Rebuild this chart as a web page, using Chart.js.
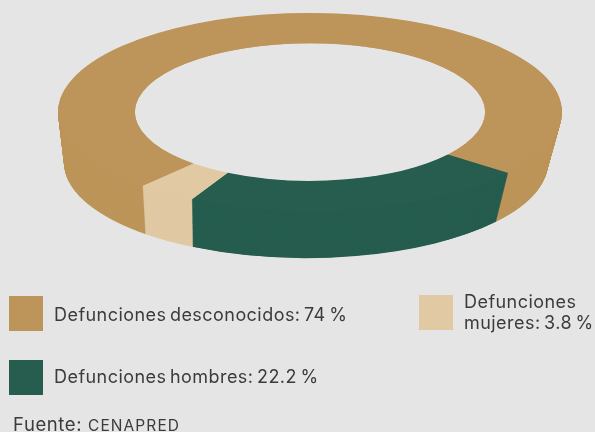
<!DOCTYPE html>
<html lang="es">
<head>
<meta charset="utf-8">
<title>Defunciones</title>
<script src="https://cdn.jsdelivr.net/npm/chart.js@4"></script>
<style>
  html,body{margin:0;padding:0;background:#e5e5e5;}
  body{width:595px;height:432px;position:relative;overflow:hidden;font-family:Inter,"Open Sans",sans-serif;color:#3b3b3b;}
  #wrap{position:absolute;left:0;top:0;width:595px;height:432px;}
  .sw{position:absolute;width:34px;height:35px;}
  .lb{position:absolute;font-size:18px;line-height:21px;letter-spacing:0.45px;word-spacing:-2px;white-space:nowrap;}
  #src{position:absolute;left:13px;top:413px;font-size:18.5px;line-height:22px;letter-spacing:0.6px;white-space:nowrap;}
  #src span{font-size:15.5px;letter-spacing:1.1px;}
</style>
</head>
<body>
<div id="wrap"><canvas id="c" width="595" height="432"></canvas></div>
<div id="legend"></div>
<div id="src">Fuente: <span>CENAPRED</span></div>
<script>
const categories = ["Defunciones desconocidos", "Defunciones hombres", "Defunciones mujeres"];
const values = [74, 22.2, 3.8];
const colours = ["#bd955a", "#265d4f", "#e0c9a3"];
const legendText = [["Defunciones desconocidos: 74 %"], ["Defunciones hombres: 22.2 %"], ["Defunciones", "mujeres: 3.8 %"]];
const swatchPos = [[9, 296], [9, 360], [419, 295]];
const textPos = [[54, 304], [54, 366], [464, 291]];

const background = "#e5e5e5";
const topCentre = {x: 310, y: 112};
const topSquash = 0.393;
const wallDepth = 51;
const wallShiftX = -4;
const wallBottomScaleX = 0.96;
const wallBottomSquash = 0.377;

function place(ctx, chart, cx, cy, sx, sy) {
  const a = chart.getDatasetMeta(0).data[0];
  ctx.translate(cx, cy);
  ctx.scale(sx, sy);
  ctx.translate(-a.x, -a.y);
}

const ring3d = {
  id: "ring3d",
  beforeDatasetsDraw(chart) {
    const ctx = chart.ctx;
    const arcs = chart.getDatasetMeta(0).data;
    // side wall: the library's own arcs repeated from the lower rim up to the top rim
    for (let d = wallDepth; d > 0; d -= 0.5) {
      const t = d / wallDepth;
      ctx.save();
      place(ctx, chart, topCentre.x + wallShiftX * t, topCentre.y + d, 1 + (wallBottomScaleX - 1) * t, topSquash + (wallBottomSquash - topSquash) * t);
      arcs.forEach(a => a.draw(ctx));
      ctx.restore();
    }
    // clear the hole so that no inner wall shows
    const a = arcs[0];
    ctx.save();
    place(ctx, chart, topCentre.x, topCentre.y, 1, topSquash);
    ctx.beginPath();
    ctx.arc(a.x, a.y, a.innerRadius, 0, Math.PI * 2);
    ctx.fillStyle = background;
    ctx.fill();
    ctx.restore();
    // top face, drawn next by the chart itself
    ctx.save();
    place(ctx, chart, topCentre.x, topCentre.y, 1, topSquash);
  },
  afterDatasetsDraw(chart) {
    chart.ctx.restore();
  }
};

new Chart(document.getElementById("c"), {
  type: "doughnut",
  data: {
    labels: categories,
    datasets: [{
      data: values,
      backgroundColor: colours,
      borderWidth: 0,
      clip: false
    }]
  },
  options: {
    responsive: false,
    animation: false,
    events: [],
    radius: 252,
    cutout: "69.5%",
    rotation: 221.7,
    layout: {padding: 0},
    plugins: {legend: {display: false}, tooltip: {enabled: false}}
  },
  plugins: [ring3d]
});

const legend = document.getElementById("legend");
categories.forEach((name, i) => {
  const sw = document.createElement("div");
  sw.className = "sw";
  sw.style.left = swatchPos[i][0] + "px";
  sw.style.top = swatchPos[i][1] + "px";
  sw.style.background = colours[i];
  legend.appendChild(sw);
  const lb = document.createElement("div");
  lb.className = "lb";
  lb.style.left = textPos[i][0] + "px";
  lb.style.top = textPos[i][1] + "px";
  lb.innerHTML = legendText[i].join("<br>");
  legend.appendChild(lb);
});
</script>
</body>
</html>
